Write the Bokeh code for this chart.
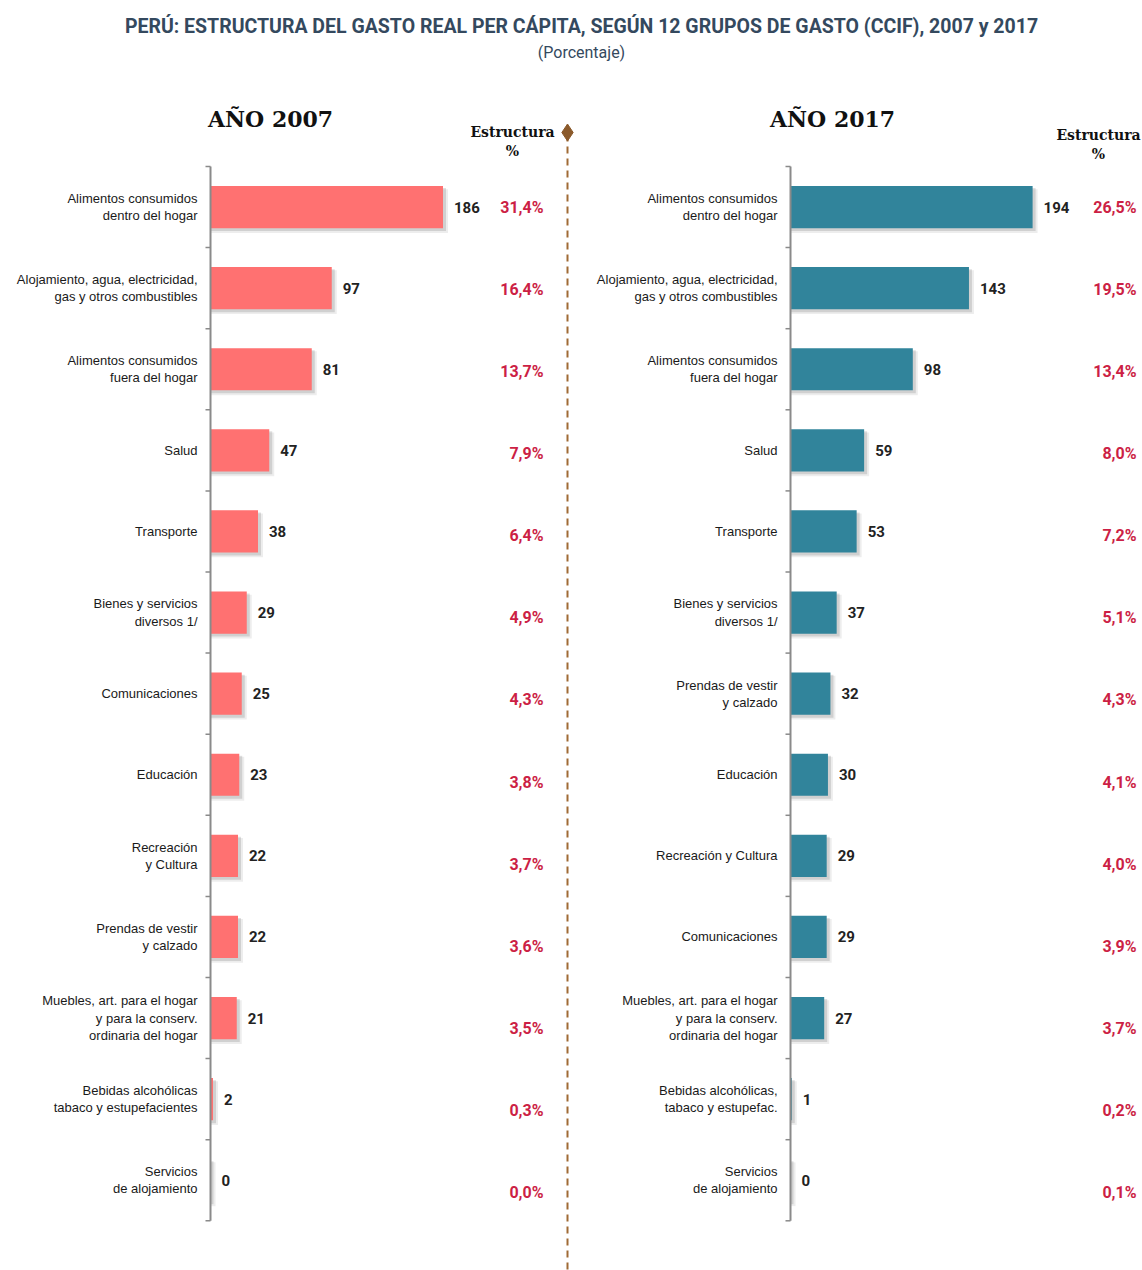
import numpy as np
from bokeh.plotting import figure
from bokeh.models import Range1d, ColumnDataSource
from bokeh.core.properties import value
from bokeh.embed import file_html
from bokeh.resources import INLINE

# ---------------- data ----------------
cats_2007 = [
    "Alimentos consumidos\ndentro del hogar",
    "Alojamiento, agua, electricidad,\ngas y otros combustibles",
    "Alimentos consumidos\nfuera del hogar",
    "Salud",
    "Transporte",
    "Bienes y servicios\ndiversos 1/",
    "Comunicaciones",
    "Educación",
    "Recreación\ny Cultura",
    "Prendas de vestir\ny calzado",
    "Muebles, art. para el hogar\ny para la conserv.\nordinaria del hogar",
    "Bebidas alcohólicas\ntabaco y estupefacientes",
    "Servicios\nde alojamiento",
]
vals_2007 = [186, 97, 81, 47, 38, 29, 25, 23, 22, 22, 21, 2, 0]
pct_2007 = ["31,4%", "16,4%", "13,7%", "7,9%", "6,4%", "4,9%", "4,3%",
            "3,8%", "3,7%", "3,6%", "3,5%", "0,3%", "0,0%"]

cats_2017 = [
    "Alimentos consumidos\ndentro del hogar",
    "Alojamiento, agua, electricidad,\ngas y otros combustibles",
    "Alimentos consumidos\nfuera del hogar",
    "Salud",
    "Transporte",
    "Bienes y servicios\ndiversos 1/",
    "Prendas de vestir\ny calzado",
    "Educación",
    "Recreación y Cultura",
    "Comunicaciones",
    "Muebles, art. para el hogar\ny para la conserv.\nordinaria del hogar",
    "Bebidas alcohólicas,\ntabaco y estupefac.",
    "Servicios\nde alojamiento",
]
vals_2017 = [194, 143, 98, 59, 53, 37, 32, 30, 29, 29, 27, 1, 0]
pct_2017 = ["26,5%", "19,5%", "13,4%", "8,0%", "7,2%", "5,1%", "4,3%",
            "4,1%", "4,0%", "3,9%", "3,7%", "0,2%", "0,1%"]

title_text = "PERÚ: ESTRUCTURA DEL GASTO REAL PER CÁPITA, SEGÚN 12 GRUPOS DE GASTO (CCIF), 2007 y 2017"
subtitle_text = "(Porcentaje)"

# ---------------- layout constants ----------------
W, H = 1142, 1270
L_AXIS_PX, L_SCALE = 210, 1.25
R_AXIS_PX, R_SCALE = 790, 1.248
TOP_PX, BAND = 166, 81.1

COND = "Roboto"
SANS = "Liberation Sans"
SERIF = "DejaVu Serif"
PCT_COLOR = "#cc1f45"
TXT = "#1a1a1a"


def lx(ix):
    return (ix - L_AXIS_PX) / L_SCALE


def rx(ix):
    return (ix - R_AXIS_PX) / R_SCALE


def yy(iy):
    return -0.5 + (iy - TOP_PX) / BAND


p = figure(width=W, height=H, output_backend="svg", toolbar_location=None,
           x_range=Range1d(-L_AXIS_PX / L_SCALE, (W - L_AXIS_PX) / L_SCALE),
           y_range=Range1d(-0.5 + (H - TOP_PX) / BAND, -0.5 - TOP_PX / BAND),
           x_axis_location=None, y_axis_location=None,
           min_border=0, outline_line_color=None)
p.extra_x_ranges = {"r": Range1d(-R_AXIS_PX / R_SCALE, (W - R_AXIS_PX) / R_SCALE)}
p.xgrid.visible = False
p.ygrid.visible = False
p.background_fill_color = "white"
p.border_fill_color = "white"


def panel(cats, vals, pcts, color, rname, scale, pct_x):
    n = len(cats)
    idx = np.arange(n)
    v = np.array(vals, dtype=float)
    kw = {} if rname is None else {"x_range_name": rname}
    src = ColumnDataSource(dict(
        y=idx, v=v, cat=cats, pct=pcts, lab=[str(x) for x in vals],
        sy1=idx + 4.0 / BAND, sv1=v + 5.0 / scale,
        sy2=idx + 2.5 / BAND, sv2=v + 3.0 / scale,
        ypct=idx + idx * 1.05 / BAND,
    ))
    # shadow
    p.hbar(y="sy1", left=0, right="sv1", height=0.54, source=src,
           fill_color="#000000", fill_alpha=0.07, line_color=None, **kw)
    p.hbar(y="sy2", left=0, right="sv2", height=0.53, source=src,
           fill_color="#000000", fill_alpha=0.12, line_color=None, **kw)
    # bars
    p.hbar(y="y", left=0, right="v", height=0.52, source=src,
           fill_color=color, line_color=None, **kw)
    # axis line and ticks at band boundaries
    bounds = np.arange(n + 1) - 0.5
    p.segment(x0=0, y0=-0.5, x1=0, y1=n - 0.5, line_color="#8a8a8a", line_width=2, **kw)
    p.segment(x0=np.full(n + 1, -5.0 / scale), y0=bounds, x1=np.zeros(n + 1), y1=bounds,
              line_color="#8a8a8a", line_width=1.5, **kw)
    # category labels
    p.text(x=0, y="y", text="cat", source=src, x_offset=-13,
           text_align="right", text_baseline="middle",
           text_font=value(SANS), text_font_size="13px", text_color=TXT,
           text_line_height=1.15, **kw)
    # value labels
    p.text(x="v", y="y", text="lab", source=src, x_offset=11,
           text_align="left", text_baseline="middle",
           text_font=value(COND), text_font_style="bold",
           text_font_size="15px", text_color="#222222", **kw)
    # percentage labels
    p.text(x=pct_x, y="ypct", text="pct", source=src,
           text_align="right", text_baseline="middle",
           text_font=value(COND), text_font_style="bold",
           text_font_size="16px", text_color=PCT_COLOR, **kw)


panel(cats_2007, vals_2007, pct_2007, "#ff7171", None, L_SCALE, lx(543))
panel(cats_2017, vals_2017, pct_2017, "#31849b", "r", R_SCALE, rx(1136))

# titles
p.text(x=[lx(581)], y=[yy(26)], text=[title_text], text_align="center",
       text_baseline="middle", text_font=value(COND), text_font_style="bold",
       text_font_size="19.5px", text_color="#34495e")
p.text(x=[lx(581)], y=[yy(52)], text=[subtitle_text], text_align="center",
       text_baseline="middle", text_font=value(COND),
       text_font_size="16px", text_color="#34495e")

# panel headers
p.text(x=[lx(270)], y=[yy(118)], text=["AÑO 2007"], text_align="center",
       text_baseline="middle", text_font=value(SERIF), text_font_style="bold",
       text_font_size="22px", text_color="#111111")
p.text(x=[lx(832)], y=[yy(118)], text=["AÑO 2017"], text_align="center",
       text_baseline="middle", text_font=value(SERIF), text_font_style="bold",
       text_font_size="22px", text_color="#111111")
p.text(x=[lx(512)], y=[yy(141)], text=["Estructura\n%"], text_align="center",
       text_baseline="middle", text_font=value(SERIF), text_font_style="bold",
       text_font_size="14px", text_color="#111111", text_line_height=1.2)
p.text(x=[lx(1098)], y=[yy(144)], text=["Estructura\n%"], text_align="center",
       text_baseline="middle", text_font=value(SERIF), text_font_style="bold",
       text_font_size="14px", text_color="#111111", text_line_height=1.2)

# central dashed divider with diamond
p.segment(x0=[lx(567)], y0=[yy(134)], x1=[lx(567)], y1=[yy(1270)],
          line_color="#a06a35", line_width=2, line_dash="7 5")
p.scatter(x=[lx(567)], y=[yy(132)], marker="diamond", size=17,
          fill_color="#8b5a2b", line_color="#8b5a2b")

open("out.html", "w").write(file_html(p, INLINE))
